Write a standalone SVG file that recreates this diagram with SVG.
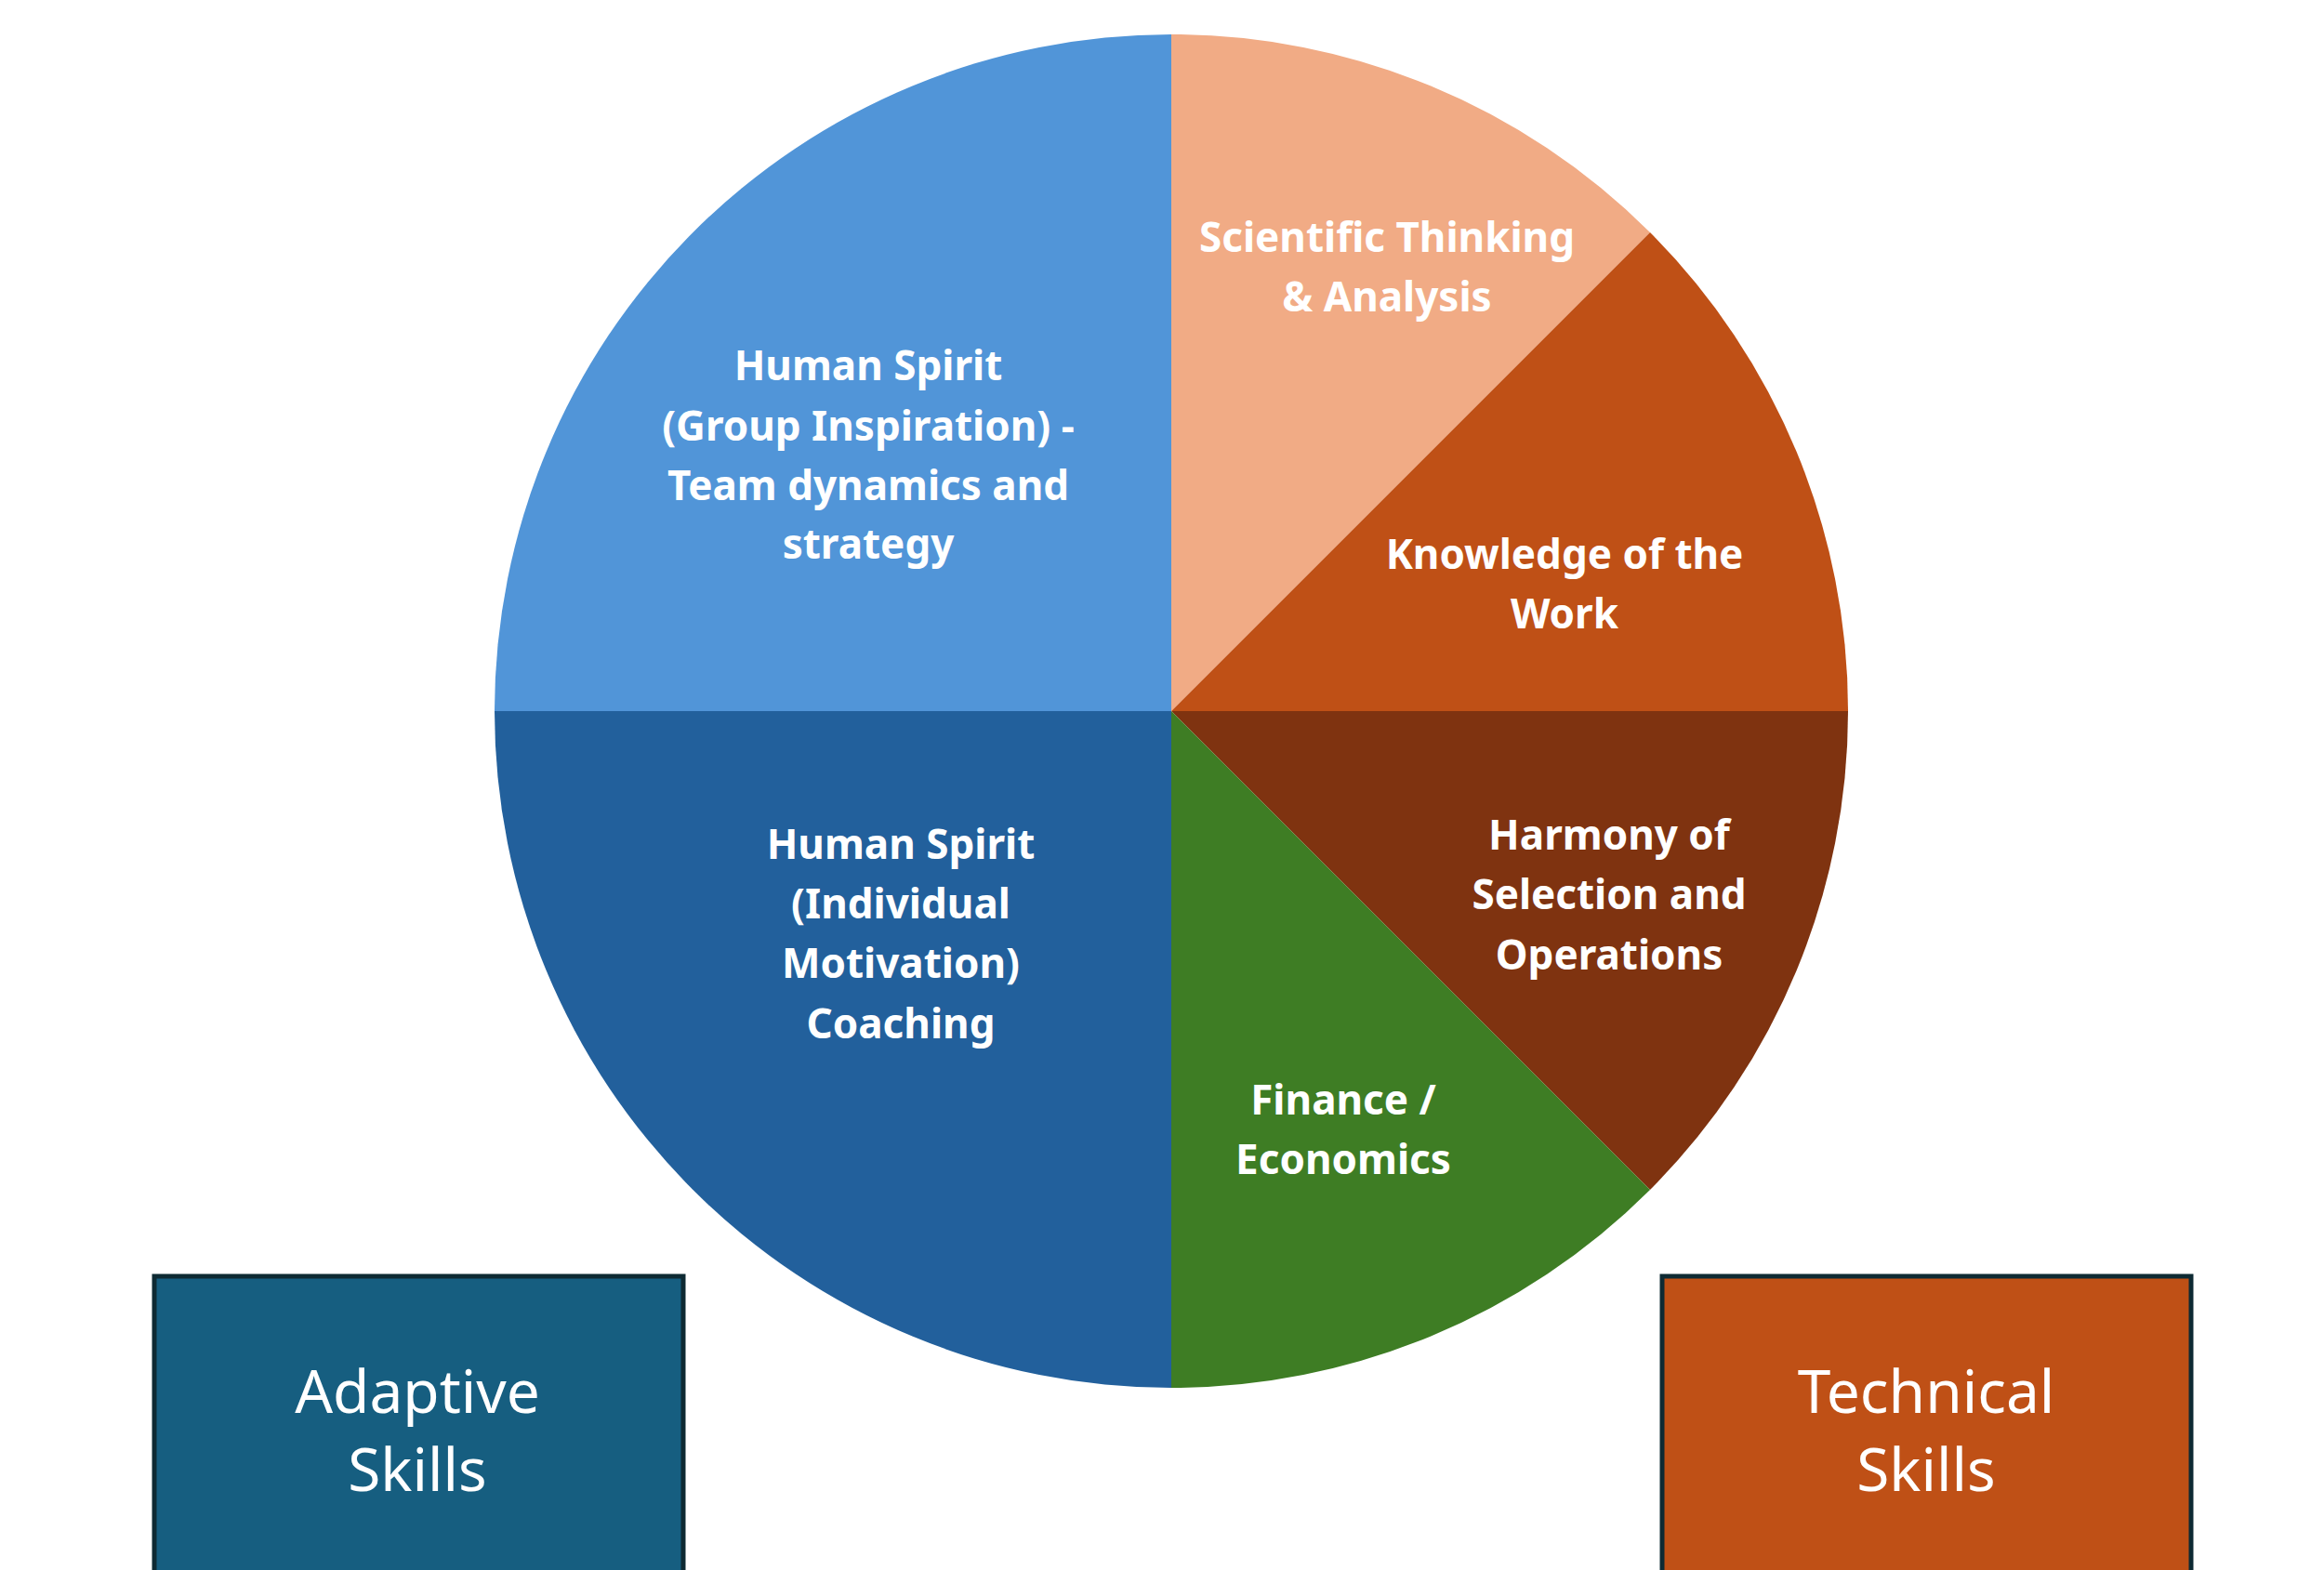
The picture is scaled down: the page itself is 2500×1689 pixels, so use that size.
<svg xmlns="http://www.w3.org/2000/svg" width="2500" height="1689" viewBox="0 0 2500 1689">
<style>
.l{font-family:"Noto Sans","Open Sans",sans-serif;font-weight:bold;font-size:44px;fill:#fff;text-anchor:middle;dominant-baseline:central}
.b{font-family:"Noto Sans","Open Sans",sans-serif;font-size:64px;fill:#fff;text-anchor:middle;dominant-baseline:central}
.box{stroke:#0E2A33;stroke-width:5}
</style>
<rect width="2500" height="1689" fill="#fff"/>
<g id="pie">
<path id="s1" d="M1260,765 L1260,37 A728,728 0 0 0 532,765 Z" fill="#5195D8"/>
<path id="s2" d="M1260,765 L532,765 A728,728 0 0 0 1260,1493 Z" fill="#22609C"/>
<path id="s3" d="M1260,765 L1260,37 A728,728 0 0 1 1775,250 Z" fill="#F1AB85"/>
<path id="s4" d="M1260,765 L1775,250 A728,728 0 0 1 1988,765 Z" fill="#BF5016"/>
<path id="s5" d="M1260,765 L1988,765 A728,728 0 0 1 1775,1280 Z" fill="#7F3310"/>
<path id="s6" d="M1260,765 L1775,1280 A728,728 0 0 1 1260,1493 Z" fill="#3E7D24"/>
</g>
<g id="labels">
<text class="l" x="934" y="392">Human Spirit</text>
<text class="l" x="934" y="457">(Group Inspiration) -</text>
<text class="l" x="934" y="521">Team dynamics and</text>
<text class="l" x="934" y="584">strategy</text>
<text class="l" x="969" y="907">Human Spirit</text>
<text class="l" x="969" y="971">(Individual</text>
<text class="l" x="969" y="1035">Motivation)</text>
<text class="l" x="969" y="1100">Coaching</text>
<text class="l" x="1492" y="254">Scientific Thinking</text>
<text class="l" x="1492" y="318">&amp; Analysis</text>
<text class="l" x="1683" y="595">Knowledge of the</text>
<text class="l" x="1683" y="659">Work</text>
<text class="l" x="1731" y="897">Harmony of</text>
<text class="l" x="1731" y="961">Selection and</text>
<text class="l" x="1731" y="1026">Operations</text>
<text class="l" x="1445" y="1182">Finance /</text>
<text class="l" x="1445" y="1246">Economics</text>
</g>
<g id="adaptive">
<rect class="box" x="166" y="1373" width="569" height="330" fill="#165E80"/>
<text class="b" x="449" y="1495">Adaptive</text>
<text class="b" x="449" y="1579">Skills</text>
</g>
<g id="technical">
<rect class="box" x="1788" y="1373" width="569" height="330" fill="#BF5016"/>
<text class="b" x="2072" y="1495">Technical</text>
<text class="b" x="2072" y="1579">Skills</text>
</g>
<g id="connectors"/>
</svg>
